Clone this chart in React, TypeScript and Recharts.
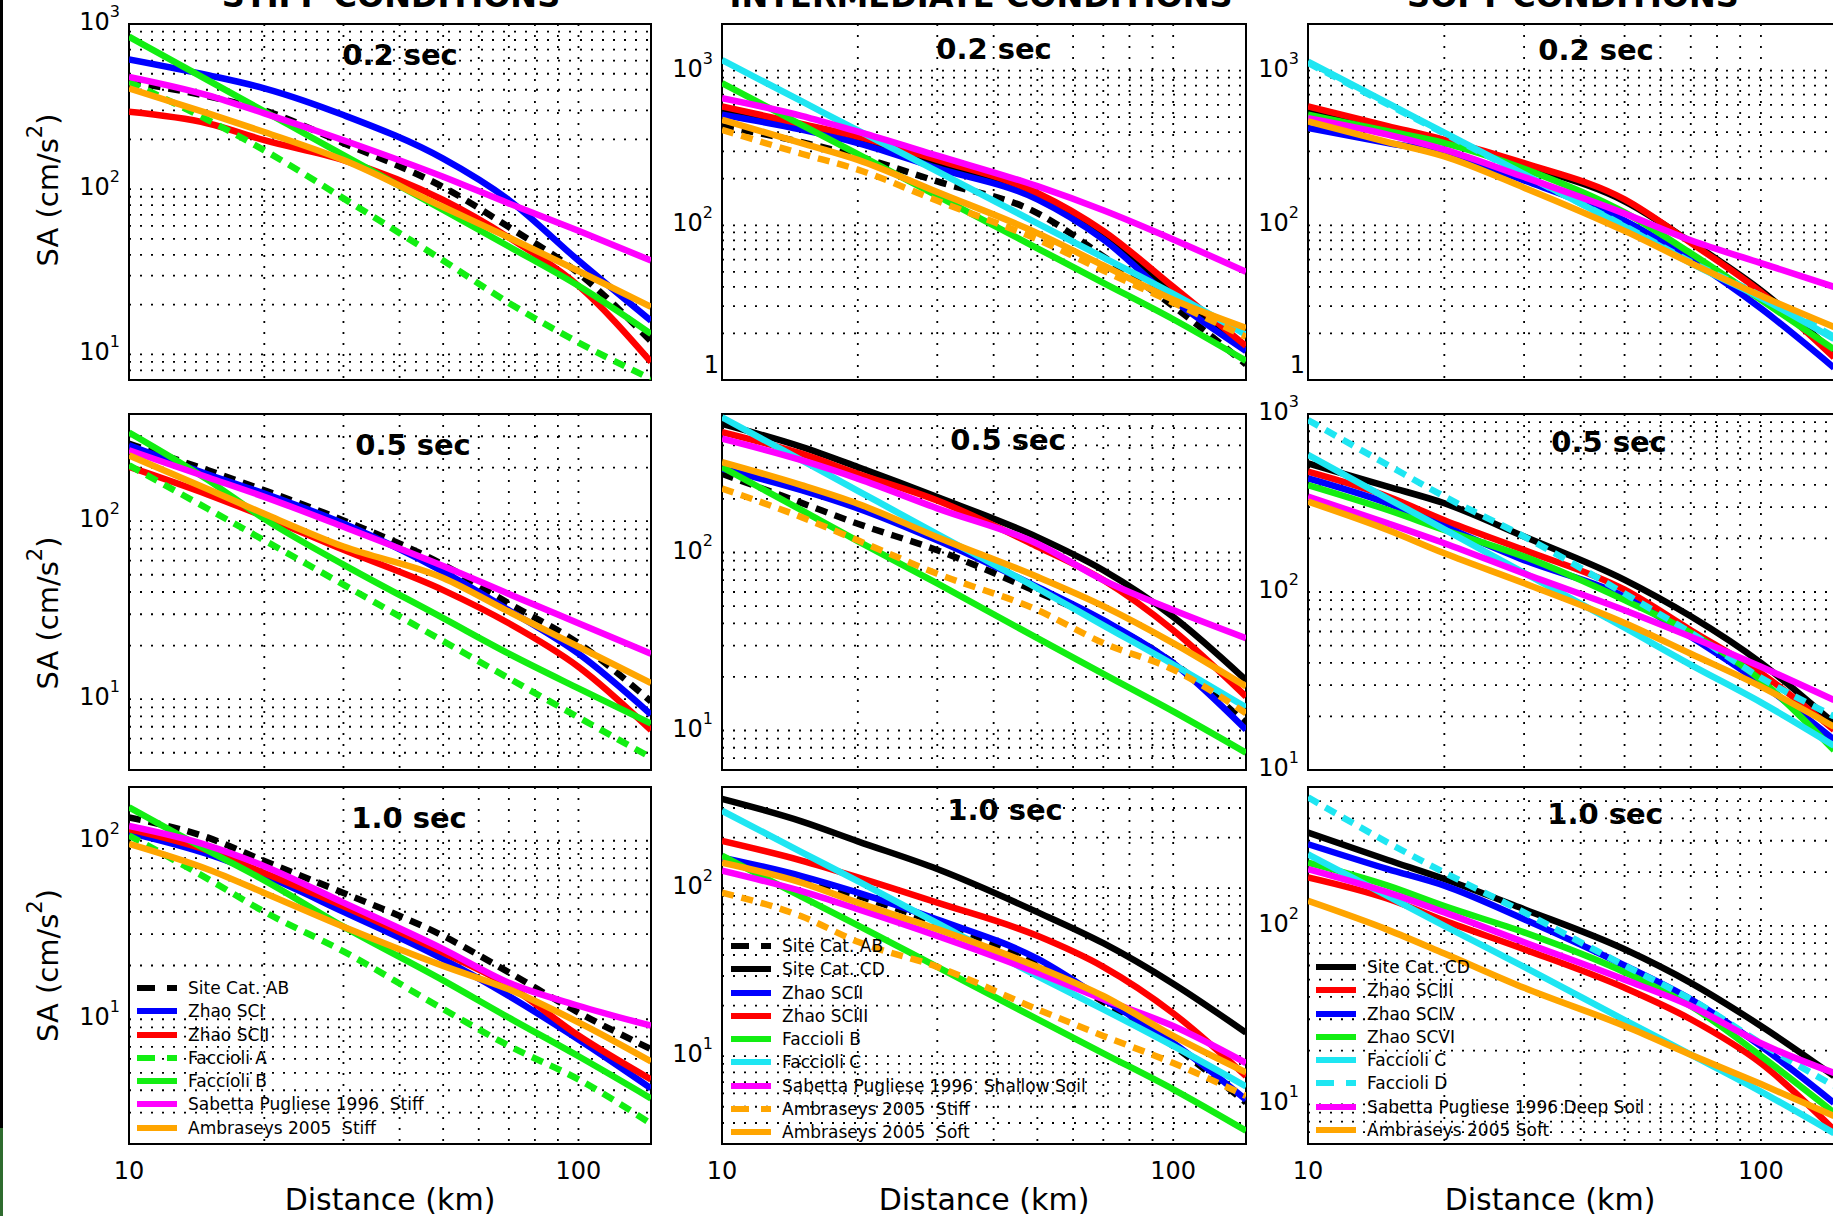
import React from 'react';
import { LineChart, Line, XAxis, YAxis, CartesianGrid, ReferenceArea, Legend } from 'recharts';

// distance samples (km), shared by every curve
const distances = [10, 15, 20, 30, 50, 70, 100, 145];
const xTicks = [10, 20, 30, 40, 50, 60, 70, 80, 90, 100];

// grid / tick values for each y range
const yTicks7to1000 = [7, 8, 9, 10, 20, 30, 40, 50, 60, 70, 80, 90, 100, 200, 300, 400, 500, 600, 700, 800, 900, 1000];
const yTicks10to2000 = [10, 20, 30, 40, 50, 60, 70, 80, 90, 100, 200, 300, 400, 500, 600, 700, 800, 900, 1000, 2000];
const yTicks4to400 = [4, 5, 6, 7, 8, 9, 10, 20, 30, 40, 50, 60, 70, 80, 90, 100, 200, 300, 400];
const yTicks6to600 = [6, 7, 8, 9, 10, 20, 30, 40, 50, 60, 70, 80, 90, 100, 200, 300, 400, 500, 600];
const yTicks10to1000 = [10, 20, 30, 40, 50, 60, 70, 80, 90, 100, 200, 300, 400, 500, 600, 700, 800, 900, 1000];
const yTicks2to200 = [2, 3, 4, 5, 6, 7, 8, 9, 10, 20, 30, 40, 50, 60, 70, 80, 90, 100, 200];
const yTicks3to400 = [3, 4, 5, 6, 7, 8, 9, 10, 20, 30, 40, 50, 60, 70, 80, 90, 100, 200, 300, 400];

// ---- STIFF, 0.2 s
const s02_siteAB = [447, 365, 300, 190, 103, 59, 31, 12];
const s02_zhaoSCI = [611, 490, 408, 281, 153, 86, 37, 16];
const s02_zhaoSCII = [294, 250, 198, 150, 86, 51, 26, 9];
const s02_faccA = [447, 262, 172, 88, 37, 20.5, 11.8, 7.1];
const s02_faccB = [838, 456, 296, 161, 75, 45, 26, 13.3];
const s02_sabetta = [479, 370, 288, 198, 119, 82, 56, 37];
const s02_ambraseys = [408, 288, 222, 150, 78, 51, 32, 19.4];

// ---- INTERMEDIATE, 0.2 s
const i02_siteAB = [436, 345, 279, 192, 120, 63, 30, 12.6];
const i02_siteCD = [550, 430, 355, 250, 155, 86, 37, 16];
const i02_zhaoSCII = [518, 415, 340, 234, 147, 81, 33, 15.4];
const i02_zhaoSCIII = [587, 452, 375, 265, 162, 92, 40, 16.6];
const i02_faccB = [829, 446, 288, 155, 71, 42.5, 24.7, 13.3];
const i02_faccC = [1170, 634, 410, 223, 103, 62, 36, 19.6];
const i02_sabetta = [663, 510, 403, 282, 179, 125, 81, 50];
const i02_ambStiff = [414, 290, 229, 144, 81, 51, 31.6, 19];
const i02_ambSoft = [481, 340, 265, 164, 89, 55, 33, 21.7];

// ---- SOFT, 0.2 s
const f02_siteCD = [560, 430, 350, 245, 143, 78, 38, 15];
const f02_zhaoSCIII = [586, 438, 357, 252, 147, 77, 37, 14];
const f02_zhaoSCIV = [425, 340, 293, 195, 107, 60, 29, 12];
const f02_zhaoSCVI = [518, 405, 340, 232, 121, 66, 33, 15.8];
const f02_faccC = [1143, 616, 397, 214, 98, 57, 34, 18.4];
const f02_faccD = [1120, 605, 392, 212, 99, 58, 35, 19];
const f02_sabetta = [492, 385, 308, 205, 119, 80, 57, 40];
const f02_ambSoft = [469, 345, 279, 175, 92, 57, 35, 22];

// ---- STIFF, 0.5 s
const s05_siteAB = [272, 193, 149, 101, 57, 34.5, 20.6, 9.7];
const s05_zhaoSCI = [267, 183, 143, 97, 52, 31.6, 18, 8.2];
const s05_zhaoSCII = [202, 141, 106, 69, 41, 26.7, 15.2, 6.7];
const s05_faccA = [206, 117, 78, 44, 21.2, 13.1, 7.9, 4.7];
const s05_faccB = [315, 170, 103, 57, 28.5, 18, 11.5, 7.3];
const s05_sabetta = [250, 176, 137, 93, 56, 39, 26.7, 18];
const s05_ambraseys = [234, 151, 110, 72, 48, 31, 19.7, 12.3];

// ---- INTERMEDIATE, 0.5 s
const i05_siteAB = [277, 190, 145, 103, 60, 41, 24, 11];
const i05_siteCD = [528, 392, 302, 205, 122, 79.5, 43.5, 19.2];
const i05_zhaoSCII = [296, 224, 177, 117, 64, 41.7, 23.9, 10.1];
const i05_zhaoSCIII = [475, 359, 277, 196, 108, 70, 36.6, 15.5];
const i05_faccB = [302, 173, 116, 67, 33, 20.8, 12.8, 7.5];
const i05_faccC = [575, 330, 222, 127, 63, 39, 23.5, 13.5];
const i05_sabetta = [436, 330, 260, 177, 112, 70, 47.5, 33];
const i05_ambStiff = [229, 158, 117, 76, 47.5, 31, 22, 12.5];
const i05_ambSoft = [322, 239, 188, 122, 73, 50, 31, 17.7];

// ---- SOFT, 0.5 s
const f05_siteCD = [528, 391, 315, 205, 117, 73, 40, 18.3];
const f05_zhaoSCIII = [474, 344, 253, 172, 103, 61, 35, 16.8];
const f05_zhaoSCIV = [435, 315, 233, 151, 94, 56, 30.7, 14.8];
const f05_zhaoSCVI = [399, 289, 223, 158, 90, 59, 32, 12.9];
const f05_faccC = [589, 335, 225, 128, 63, 39, 24, 13.7];
const f05_faccD = [925, 517, 344, 205, 98, 59, 33, 20];
const f05_sabetta = [344, 243, 188, 127, 79, 56, 38, 24.7];
const f05_ambSoft = [322, 223, 165, 112, 67, 45, 29.4, 17.5];

// ---- STIFF, 1.0 s
const s10_siteAB = [135, 104, 77, 51, 29.3, 18.3, 10.9, 6.8];
const s10_zhaoSCI = [111, 84, 64, 40, 21.7, 13.5, 7.7, 4.1];
const s10_zhaoSCII = [116, 88, 66, 43, 23.6, 15.4, 8.1, 4.6];
const s10_faccA = [107, 61, 40, 24, 11.4, 7.1, 4.6, 2.6];
const s10_faccB = [154, 88, 60, 33, 16.5, 10.2, 6.2, 3.6];
const s10_sabetta = [121, 94, 72, 45, 24.7, 16, 11.9, 9.2];
const s10_ambraseys = [96, 69, 51, 33, 19.9, 14.7, 9.6, 5.8];

// ---- INTERMEDIATE, 1.0 s
const i10_siteAB = [145, 112, 90, 62, 36, 21, 11.5, 5.3];
const i10_siteCD = [340, 250, 190, 130, 72, 47, 27, 13.8];
const i10_zhaoSCII = [152, 118, 94, 65, 38, 21.8, 12, 5.5];
const i10_zhaoSCIII = [191, 146, 116, 82, 52, 34, 18, 7.6];
const i10_faccB = [156, 89, 60, 34, 16.6, 10.4, 6.35, 3.6];
const i10_faccC = [289, 164, 110, 62, 30, 19, 11.5, 6.6];
const i10_sabetta = [127, 96, 75, 52, 31.4, 21.8, 15.1, 9.1];
const i10_ambStiff = [94, 68, 48, 34, 19, 13.2, 9.1, 5.8];
const i10_ambSoft = [142, 108, 82, 57, 34, 22.8, 13.2, 8];

// ---- SOFT, 1.0 s
const f10_siteCD = [333, 234, 183, 124, 74, 48, 27.5, 14.4];
const f10_zhaoSCIII = [187, 142, 107, 74, 45, 30, 17, 7.2];
const f10_zhaoSCIV = [287, 208, 168, 109, 60, 38.8, 21.2, 10.2];
const f10_zhaoSCVI = [226, 168, 129, 92, 55, 35.6, 18.7, 9];
const f10_faccC = [252, 147, 100, 59, 29.7, 19, 11.8, 6.9];
const f10_faccD = [525, 293, 199, 119, 60, 38.8, 22, 12.7];
const f10_sabetta = [208, 154, 119, 81, 50, 35.6, 22, 15];
const f10_ambSoft = [138, 95, 70, 45, 27.5, 19, 13, 8.6];

const BLACK = '#000000';
const BLUE = '#0000ff';
const RED = '#ff0000';
const GREEN = '#12ee12';
const MAGENTA = '#ff00ff';
const ORANGE = '#ffa500';
const CYAN = '#1ee6f2';

const FONT = '"DejaVu Sans", sans-serif';

type Curve = { key: string; name: string; values: number[]; color: string; dashed?: boolean };

const c = (key: string, name: string, values: number[], color: string, dashed = false): Curve => ({
  key, name, values, color, dashed,
});

const stiff = (ab: number[], sci: number[], scii: number[], fa: number[], fb: number[], sp: number[], amb: number[]) => [
  c('ab', 'Site Cat. AB', ab, BLACK, true),
  c('sci', 'Zhao SCI', sci, BLUE),
  c('scii', 'Zhao SCII', scii, RED),
  c('fa', 'Faccioli A', fa, GREEN, true),
  c('fb', 'Faccioli B', fb, GREEN),
  c('sp', 'Sabetta Pugliese 1996  Stiff', sp, MAGENTA),
  c('amb', 'Ambraseys 2005  Stiff', amb, ORANGE),
];

const inter = (ab: number[], cd: number[], scii: number[], sciii: number[], fb: number[], fc: number[], sp: number[], ast: number[], aso: number[]) => [
  c('ab', 'Site Cat. AB', ab, BLACK, true),
  c('cd', 'Site Cat. CD', cd, BLACK),
  c('scii', 'Zhao SCII', scii, BLUE),
  c('sciii', 'Zhao SCIII', sciii, RED),
  c('fb', 'Faccioli B', fb, GREEN),
  c('fc', 'Faccioli C', fc, CYAN),
  c('sp', 'Sabetta Pugliese 1996  Shallow Soil', sp, MAGENTA),
  c('ast', 'Ambraseys 2005  Stiff', ast, ORANGE, true),
  c('aso', 'Ambraseys 2005  Soft', aso, ORANGE),
];

const soft = (cd: number[], sciii: number[], sciv: number[], scvi: number[], fc: number[], fd: number[], sp: number[], aso: number[]) => [
  c('cd', 'Site Cat. CD', cd, BLACK),
  c('sciii', 'Zhao SCIII', sciii, RED),
  c('sciv', 'Zhao SCIV', sciv, BLUE),
  c('scvi', 'Zhao SCVI', scvi, GREEN),
  c('fc', 'Faccioli C', fc, CYAN),
  c('fd', 'Faccioli D', fd, CYAN, true),
  c('sp', 'Sabetta Pugliese 1996 Deep Soil', sp, MAGENTA),
  c('aso', 'Ambraseys 2005 Soft', aso, ORANGE),
];

const COLS = [
  { left: 129, width: 522 },
  { left: 722, width: 524 },
  { left: 1308, width: 526 },
];
const ROWS = [
  { top: 24, height: 356 },
  { top: 414, height: 356 },
  { top: 787, height: 357 },
];

type Spec = {
  col: number; row: number; yDomain: [number, number]; yTicks: number[];
  title: string; titleDx: number; titleDy: number; curves: Curve[];
  oneLabel?: boolean; yLabelDy?: number; showX?: boolean; xLabelDx?: number;
  legend?: { x: number; y: number };
};

const panels: Spec[] = [
  { col: 0, row: 0, yDomain: [7, 1000], yTicks: yTicks7to1000, title: '0.2 sec', titleDx: 10, titleDy: 31, yLabelDy: -12,
    curves: stiff(s02_siteAB, s02_zhaoSCI, s02_zhaoSCII, s02_faccA, s02_faccB, s02_sabetta, s02_ambraseys) },
  { col: 1, row: 0, yDomain: [10, 2000], yTicks: yTicks10to2000, title: '0.2 sec', titleDx: 10, titleDy: 25, oneLabel: true,
    curves: inter(i02_siteAB, i02_siteCD, i02_zhaoSCII, i02_zhaoSCIII, i02_faccB, i02_faccC, i02_sabetta, i02_ambStiff, i02_ambSoft) },
  { col: 2, row: 0, yDomain: [10, 2000], yTicks: yTicks10to2000, title: '0.2 sec', titleDx: 25, titleDy: 26, oneLabel: true,
    curves: soft(f02_siteCD, f02_zhaoSCIII, f02_zhaoSCIV, f02_zhaoSCVI, f02_faccC, f02_faccD, f02_sabetta, f02_ambSoft) },
  { col: 0, row: 1, yDomain: [4, 400], yTicks: yTicks4to400, title: '0.5 sec', titleDx: 23, titleDy: 31, yLabelDy: 21,
    curves: stiff(s05_siteAB, s05_zhaoSCI, s05_zhaoSCII, s05_faccA, s05_faccB, s05_sabetta, s05_ambraseys) },
  { col: 1, row: 1, yDomain: [6, 600], yTicks: yTicks6to600, title: '0.5 sec', titleDx: 24, titleDy: 26,
    curves: inter(i05_siteAB, i05_siteCD, i05_zhaoSCII, i05_zhaoSCIII, i05_faccB, i05_faccC, i05_sabetta, i05_ambStiff, i05_ambSoft) },
  { col: 2, row: 1, yDomain: [10, 1000], yTicks: yTicks10to1000, title: '0.5 sec', titleDx: 38, titleDy: 28,
    curves: soft(f05_siteCD, f05_zhaoSCIII, f05_zhaoSCIV, f05_zhaoSCVI, f05_faccC, f05_faccD, f05_sabetta, f05_ambSoft) },
  { col: 0, row: 2, yDomain: [2, 200], yTicks: yTicks2to200, title: '1.0 sec', titleDx: 19, titleDy: 31, yLabelDy: 0,
    showX: true, xLabelDx: 0, legend: { x: 137, y: 988 },
    curves: stiff(s10_siteAB, s10_zhaoSCI, s10_zhaoSCII, s10_faccA, s10_faccB, s10_sabetta, s10_ambraseys) },
  { col: 1, row: 2, yDomain: [3, 400], yTicks: yTicks3to400, title: '1.0 sec', titleDx: 21, titleDy: 23,
    showX: true, xLabelDx: 0, legend: { x: 731, y: 946 },
    curves: inter(i10_siteAB, i10_siteCD, i10_zhaoSCII, i10_zhaoSCIII, i10_faccB, i10_faccC, i10_sabetta, i10_ambStiff, i10_ambSoft) },
  { col: 2, row: 2, yDomain: [6, 600], yTicks: yTicks6to600, title: '1.0 sec', titleDx: 34, titleDy: 27,
    showX: true, xLabelDx: -21, legend: { x: 1316, y: 967 },
    curves: soft(f10_siteCD, f10_zhaoSCIII, f10_zhaoSCIV, f10_zhaoSCVI, f10_faccC, f10_faccD, f10_sabetta, f10_ambSoft) },
];

const headers = [
  { text: 'STIFF CONDITIONS', x: 391 },
  { text: 'INTERMEDIATE CONDITIONS', x: 981 },
  { text: 'SOFT CONDITIONS', x: 1573 },
];

const PAD_L = 140;
const PAD_T = 30;
const PAD_R = 10;
const PAD_B = 95;
const ROW_H = 23.3;
const LINE_W = 6.5;

const isDecade = (v: number) => Math.abs(Math.log10(v) - Math.round(Math.log10(v))) < 1e-6;

function YTick(props: any) {
  const { x, y, payload, oneLabel } = props;
  const v = payload.value;
  if (!isDecade(v)) return <g />;
  const exp = Math.round(Math.log10(v));
  if (oneLabel && exp === 1) {
    return (
      <text x={x + 6} y={y - 15} textAnchor="end" dominantBaseline="central" fontFamily={FONT} fontSize={24} fill="#000">
        1
      </text>
    );
  }
  return (
    <text x={x} y={y - 2} textAnchor="end" dominantBaseline="central" fontFamily={FONT} fontSize={24} fill="#000">
      10<tspan dy={-11} fontSize={16}>{exp}</tspan>
    </text>
  );
}

function XTick(props: any) {
  const { x, y, payload, show } = props;
  const v = payload.value;
  if (!show || (v !== 10 && v !== 100)) return <g />;
  return (
    <text x={x} y={y + 27} textAnchor="middle" dominantBaseline="central" fontFamily={FONT} fontSize={24} fill="#000">
      {v}
    </text>
  );
}

function LegendBox({ curves }: { curves: Curve[] }) {
  return (
    <div style={{ fontFamily: FONT, fontSize: 17, color: '#000' }}>
      {curves.map((cv) => (
        <div key={cv.key} style={{ height: ROW_H, display: 'flex', alignItems: 'center', whiteSpace: 'pre' }}>
          <svg width={40} height={8} style={{ display: 'block' }}>
            <line x1={0} y1={4} x2={40} y2={4} stroke={cv.color} strokeWidth={6}
              strokeDasharray={cv.dashed ? '18 12' : undefined} />
          </svg>
          <span style={{ marginLeft: 11 }}>{cv.name}</span>
        </div>
      ))}
    </div>
  );
}

function Panel({ spec }: { spec: Spec }) {
  const { left, width } = COLS[spec.col];
  const { top, height } = ROWS[spec.row];
  const chartLeft = left - PAD_L;
  const chartTop = top - PAD_T;
  const data = distances.map((d, i) => {
    const row: Record<string, number> = { d };
    spec.curves.forEach((cv) => { row[cv.key] = cv.values[i]; });
    return row;
  });
  const [yMin, yMax] = spec.yDomain;

  return (
    <div style={{ position: 'absolute', left: chartLeft, top: chartTop }}>
      <LineChart
        width={width + PAD_L + PAD_R}
        height={height + PAD_T + PAD_B}
        data={data}
        margin={{ top: PAD_T, right: PAD_R, bottom: 0, left: 0 }}
      >
        <CartesianGrid stroke="#000" strokeWidth={1.8} strokeDasharray="2 9" />
        <XAxis
          dataKey="d" type="number" scale="log" domain={[10, 145]} ticks={xTicks} interval={0}
          allowDataOverflow height={PAD_B} axisLine={false} tickLine={false} tickSize={0} tickMargin={0}
          tick={(p: any) => <XTick {...p} show={spec.showX} />}
          label={spec.showX ? {
            content: (p: any) => {
              const vb = p.viewBox;
              return (
                <text x={vb.x + vb.width / 2 + (spec.xLabelDx || 0)} y={vb.y + 55} textAnchor="middle"
                  dominantBaseline="central" fontFamily={FONT} fontSize={30} fill="#000">
                  Distance (km)
                </text>
              );
            },
          } : undefined}
        />
        <YAxis
          type="number" scale="log" domain={spec.yDomain} ticks={spec.yTicks} interval={0}
          allowDataOverflow width={PAD_L} axisLine={false} tickLine={false} tickSize={0} tickMargin={9}
          tick={(p: any) => <YTick {...p} oneLabel={spec.oneLabel} />}
          label={spec.col === 0 ? {
            content: (p: any) => {
              const vb = p.viewBox;
              const cx = vb.x + 48 - chartLeft;
              const cy = vb.y + vb.height / 2 + (spec.yLabelDy || 0);
              return (
                <text x={cx} y={cy} transform={`rotate(-90, ${cx}, ${cy})`} textAnchor="middle"
                  dominantBaseline="central" fontFamily={FONT} fontSize={29} fill="#000">
                  SA (cm/s<tspan dy={-13} fontSize={21}>2</tspan><tspan dy={13}>)</tspan>
                </text>
              );
            },
          } : undefined}
        />
        {spec.curves.map((cv) => (
          <Line
            key={cv.key}
            type="monotone"
            dataKey={cv.key}
            name={cv.name}
            stroke={cv.color}
            strokeWidth={LINE_W}
            strokeDasharray={cv.dashed ? '12 8' : undefined}
            strokeLinejoin="round"
            dot={false}
            activeDot={false}
            isAnimationActive={false}
          />
        ))}
        <ReferenceArea
          x1={10} x2={145} y1={yMin} y2={yMax}
          fill="none" fillOpacity={0} stroke="#000" strokeWidth={2}
          label={{
            content: (p: any) => {
              const vb = p.viewBox;
              return (
                <text x={vb.x + vb.width / 2 + spec.titleDx} y={vb.y + spec.titleDy} textAnchor="middle"
                  dominantBaseline="central" fontFamily={FONT} fontSize={29} fontWeight="bold" fill="#000">
                  {spec.title}
                </text>
              );
            },
          }}
        />
        {spec.legend && (
          <Legend
            align="center"
            verticalAlign="middle"
            layout="horizontal"
            content={() => <LegendBox curves={spec.curves} />}
            wrapperStyle={{
              position: 'absolute',
              left: spec.legend.x - chartLeft,
              top: spec.legend.y - ROW_H / 2 - chartTop,
              width: 'auto',
              height: 'auto',
              bottom: 'auto',
              right: 'auto',
            }}
          />
        )}
      </LineChart>
    </div>
  );
}

export default function App() {
  return (
    <div style={{ position: 'absolute', left: 0, top: 0, width: 1833, height: 1216, overflow: 'hidden', background: '#fff' }}>
      {panels.map((p, i) => <Panel key={i} spec={p} />)}
      <svg width={1833} height={40} style={{ position: 'absolute', left: 0, top: 0 }}>
        {headers.map((h) => (
          <text key={h.text} x={h.x} y={7} textAnchor="middle" fontFamily={FONT} fontSize={32} fontWeight="bold" fill="#000">
            {h.text}
          </text>
        ))}
      </svg>
      <div style={{ position: 'absolute', left: 0, top: 0, width: 3, height: 1128, background: '#000' }} />
      <div style={{ position: 'absolute', left: 0, top: 1128, width: 3, height: 88, background: '#2f6b2f' }} />
    </div>
  );
}
